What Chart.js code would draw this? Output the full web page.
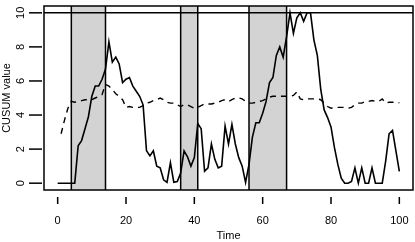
<!DOCTYPE html>
<html>
<head>
<meta charset="utf-8">
<script src="https://cdn.jsdelivr.net/npm/chart.js@4.4.0/dist/chart.umd.min.js"></script>
<style>
  html, body { margin: 0; padding: 0; background: #fff; }
  canvas { display: block; }
</style>
</head>
<body>
<canvas id="cusum-chart" width="415" height="242"></canvas>
<script>
// CUSUM statistic, one value per time step (0..100), capped at 10
const cusum = [
  0, 0, 0, 0, 0, 0, 2.2, 2.5, 3.2, 3.9,
  5.1, 5.7, 5.7, 6.1, 6.7, 8.3, 7.1, 7.4, 7.0, 5.9,
  6.1, 6.2, 5.7, 5.4, 5.1, 4.6, 1.9, 1.6, 1.9, 1.0,
  0.9, 0.2, 0.05, 1.2, 0.05, 0.1, 0.6, 1.9, 1.55, 1.0,
  1.5, 3.5, 3.2, 0.7, 0.9, 2.3, 1.4, 0.9, 1.0, 3.35,
  2.3, 3.45, 2.3, 1.5, 1.0, 0.05, 1.1, 2.7, 3.55, 3.55,
  4.1, 4.8, 5.9, 6.2, 7.5, 8.0, 7.4, 8.6, 10, 8.8,
  9.7, 10, 9.5, 10, 10, 8.4, 7.5, 5.5, 4.3, 3.85,
  3.3, 2.1, 1.1, 0.3, 0, 0, 0.1, 0.9, 0, 0.9,
  0, 0, 0.9, 0, 0, 0, 1.3, 2.9, 3.1, 1.9,
  0.7
];

// threshold (dashed), starts at time 1
const threshold = [
  null, 2.9, 3.7, 4.4, 4.8, 4.75, 4.8, 4.85, 4.9, 4.9,
  4.9, 5.0, 5.1, 5.2, 5.8, 5.7, 5.5, 5.25, 5.1, 4.9,
  4.45, 4.5, 4.45, 4.45, 4.45, 4.55, 4.7, 4.75, 4.85, 4.9,
  5.0, 4.9, 4.75, 4.7, 4.7, 4.6, 4.5, 4.6, 4.6, 4.5,
  4.4, 4.45, 4.55, 4.65, 4.65, 4.65, 4.7, 4.75, 4.85, 4.9,
  4.8, 4.9, 5.0, 5.0, 4.95, 4.8, 4.7, 4.7, 4.75, 4.8,
  4.85, 4.95, 5.05, 5.1, 5.1, 5.1, 5.1, 5.1, 5.1, 5.15,
  5.35, 4.95, 4.9, 4.95, 4.95, 4.95, 4.95, 4.9, 4.7, 4.5,
  4.4, 4.45, 4.45, 4.45, 4.45, 4.4, 4.45, 4.6, 4.7, 4.7,
  4.8, 4.8, 4.85, 4.8, 4.8, 4.95, 4.7, 4.75, 4.75, 4.75,
  4.72
];

// shaded periods [start, end]
const periods = [[4, 14], [36, 41], [56, 67]];
const limit = 10;

const xTicks = [0, 20, 40, 60, 80, 100];
const yTicks = [0, 2, 4, 6, 8, 10];
const xTitle = 'Time';
const yTitle = 'CUSUM value';

const FONT = '11px "Liberation Sans", Arial, Helvetica, sans-serif';

// dibuja zonas sombreadas, ejes y caja a mano (estilo R)
const rStyle = {
  id: 'rStyle',
  beforeDatasetsDraw(chart) {
    const { ctx, chartArea: a, scales: { x, y } } = chart;
    ctx.save();
    periods.forEach(([s, e]) => {
      const x0 = x.getPixelForValue(s);
      const x1 = x.getPixelForValue(e);
      ctx.fillStyle = '#d3d3d3';
      ctx.fillRect(x0, a.top, x1 - x0, a.bottom - a.top);
      ctx.strokeStyle = '#000';
      ctx.lineWidth = 1.5;
      ctx.beginPath();
      ctx.moveTo(x0, a.top); ctx.lineTo(x0, a.bottom);
      ctx.moveTo(x1, a.top); ctx.lineTo(x1, a.bottom);
      ctx.stroke();
    });
    const yl = y.getPixelForValue(limit);
    ctx.beginPath();
    ctx.moveTo(a.left, yl); ctx.lineTo(a.right, yl);
    ctx.stroke();
    ctx.restore();
  },
  afterDraw(chart) {
    const { ctx, chartArea: a, scales: { x, y } } = chart;
    ctx.save();
    ctx.strokeStyle = '#000';
    ctx.lineWidth = 1.5;
    ctx.strokeRect(a.left, a.top, a.right - a.left, a.bottom - a.top);

    ctx.fillStyle = '#000';
    ctx.font = FONT;
    ctx.textAlign = 'center';
    ctx.textBaseline = 'middle';

    xTicks.forEach(v => {
      const px = x.getPixelForValue(v);
      ctx.beginPath();
      ctx.moveTo(px, a.bottom + 7); ctx.lineTo(px, a.bottom + 14);
      ctx.stroke();
      ctx.fillText(String(v), px, 221);
    });
    ctx.fillText(xTitle, (x.getPixelForValue(0) + x.getPixelForValue(100)) / 2, 236);

    yTicks.forEach(v => {
      const py = y.getPixelForValue(v);
      ctx.beginPath();
      ctx.moveTo(29, py); ctx.lineTo(42, py);
      ctx.stroke();
      ctx.save();
      ctx.translate(21, py);
      ctx.rotate(-Math.PI / 2);
      ctx.fillText(String(v), 0, 0);
      ctx.restore();
    });
    ctx.save();
    ctx.translate(7, (a.top + a.bottom) / 2);
    ctx.rotate(-Math.PI / 2);
    ctx.fillText(yTitle, 0, 0);
    ctx.restore();
    ctx.restore();
  }
};

new Chart(document.getElementById('cusum-chart'), {
  type: 'line',
  data: {
    datasets: [
      {
        data: cusum.map((v, i) => ({ x: i, y: v })),
        borderColor: '#000',
        borderWidth: 1.6,
        pointRadius: 0,
        fill: false
      },
      {
        data: threshold.map((v, i) => ({ x: i, y: v })),
        borderColor: '#000',
        borderWidth: 1.4,
        borderDash: [6, 5],
        pointRadius: 0,
        fill: false,
        spanGaps: false
      }
    ]
  },
  options: {
    responsive: false,
    animation: false,
    devicePixelRatio: 1,
    layout: { padding: { left: 44, right: 2, top: 6, bottom: 52 } },
    plugins: { legend: { display: false }, tooltip: { enabled: false } },
    scales: {
      x: { type: 'linear', min: -4, max: 104, display: false },
      y: { type: 'linear', min: -0.4, max: 10.4, display: false }
    }
  },
  plugins: [rStyle]
});
</script>
</body>
</html>
